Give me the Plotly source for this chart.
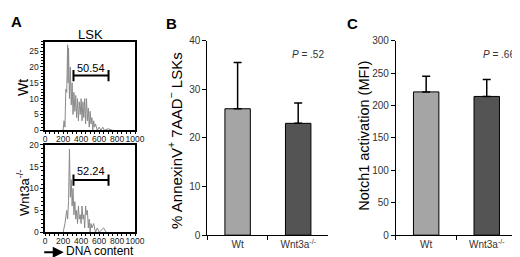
import plotly.graph_objects as go

# ---- data ----
wt_x = [200, 210, 220, 230, 240, 250, 255, 260, 270, 280, 290, 300, 310, 320, 330, 340, 350, 360, 370, 380,
        390, 400, 410, 420, 430, 440, 450, 460, 470, 480, 490, 500, 510, 520, 530, 540, 550, 560, 580, 600,
        620, 640, 660, 700, 750]
wt_y = [0, 3, 1, 13, 12, 27, 15, 26, 10, 20, 8, 15, 5, 12, 6, 11, 4, 10, 3, 9,
        5, 10, 3, 9, 4, 10, 2, 10, 3, 7, 1, 6, 2, 4, 0, 3, 1, 2, 0, 1,
        0, 1, 0, 0.5, 0]
ko_x = [200, 220, 240, 250, 260, 270, 280, 290, 300, 310, 320, 330, 340, 350, 360, 370, 380, 390, 400, 410,
        420, 430, 440, 450, 460, 470, 480, 490, 500, 510, 520, 540, 560, 580, 600, 650, 680]
ko_y = [0, 2, 5, 3, 7, 19, 8, 12, 6, 10, 4, 7, 3, 5, 2, 6, 3, 4, 2, 6,
        3, 4, 1, 6, 4, 5, 1, 3, 0, 2, 1, 2, 0, 1, 0, 1, 0]
gate_lo, gate_hi = 315, 705
wt_gate_y, ko_gate_y = 17.3, 11.9
wt_gate_label, ko_gate_label = "50.54", "52.24"

groups = ["Wt", "Wnt3a<sup>-/-</sup>"]
annexin_mean = [26, 23]
annexin_err = [9.5, 4.2]
notch_mean = [221, 214]
notch_err = [24, 26]
bar_colors = ["#a5a5a5", "#545454"]

W, H = 520, 257
def px(x): return x / W
def py(y): return 1 - y / H

fig = go.Figure()
grey = "#8a8a8a"
fig.add_trace(go.Scatter(x=wt_x, y=wt_y, mode="lines", line=dict(color=grey, width=1), xaxis="x", yaxis="y", showlegend=False))
fig.add_trace(go.Scatter(x=[gate_lo, gate_hi], y=[wt_gate_y]*2, mode="lines+markers",
                         marker=dict(symbol="line-ns", size=8, line=dict(width=2, color="black")),
                         line=dict(color="black", width=2), xaxis="x", yaxis="y", showlegend=False))
fig.add_trace(go.Scatter(x=ko_x, y=ko_y, mode="lines", line=dict(color=grey, width=1), xaxis="x2", yaxis="y2", showlegend=False))
fig.add_trace(go.Scatter(x=[gate_lo, gate_hi], y=[ko_gate_y]*2, mode="lines+markers",
                         marker=dict(symbol="line-ns", size=8, line=dict(width=2, color="black")),
                         line=dict(color="black", width=2), xaxis="x2", yaxis="y2", showlegend=False))

fig.add_trace(go.Bar(x=groups, y=annexin_mean, marker=dict(color=bar_colors, line=dict(color="black", width=1)),
                     width=0.42, error_y=dict(type="data", symmetric=False, array=annexin_err, arrayminus=[0, 0],
                                              color="black", thickness=1.5, width=4),
                     xaxis="x3", yaxis="y3", showlegend=False))
fig.add_trace(go.Bar(x=groups, y=notch_mean, marker=dict(color=bar_colors, line=dict(color="black", width=1)),
                     width=0.42, error_y=dict(type="data", symmetric=False, array=notch_err, arrayminus=[0, 0],
                                              color="black", thickness=1.5, width=4),
                     xaxis="x4", yaxis="y4", showlegend=False))

tf_small = dict(family="Liberation Sans, Arial", size=8.5, color="#222")
hist_x = dict(range=[0, 1000], dtick=200, showline=True, linecolor="black", linewidth=1.5, mirror=True,
              ticks="outside", ticklen=2, tickcolor="black", tickfont=tf_small, tickangle=0, showgrid=False, zeroline=False,
              ticklabelstandoff=-2,
              minor=dict(ticks="outside", ticklen=2, dtick=50, tickcolor="black"))
hist_y = dict(showline=True, linecolor="black", linewidth=1.5, mirror=True, ticks="outside", ticklen=3,
              tickcolor="black", tickfont=tf_small, showgrid=False, zeroline=False,
              minor=dict(ticks="outside", ticklen=2, dtick=1, tickcolor="black"))

tf_bar = dict(family="Liberation Sans, Arial", size=10, color="#333")
bar_x = dict(showline=True, linecolor="black", linewidth=1, ticks="outside", tickson="boundaries", ticklen=4,
             tickcolor="black", tickfont=tf_bar, showgrid=False, zeroline=False, range=[-0.5, 1.5])
bar_y = dict(showline=True, linecolor="black", linewidth=1, ticks="outside", ticklen=4, tickcolor="black",
             tickfont=tf_bar, showgrid=False, zeroline=False)

fig.update_layout(
    width=W, height=H, margin=dict(l=0, r=0, t=0, b=0), plot_bgcolor="white", paper_bgcolor="white",
    xaxis=dict(**hist_x, domain=[px(36), px(128)], anchor="y"),
    yaxis=dict(**hist_y, domain=[py(122), py(29)], range=[0, 28], dtick=5, anchor="x"),
    xaxis2=dict(**hist_x, domain=[px(36), px(128)], anchor="y2"),
    yaxis2=dict(**hist_y, domain=[py(229), py(137)], range=[0, 20], dtick=5, anchor="x2"),
    xaxis3=dict(**bar_x, domain=[px(202), px(326)], anchor="y3"),
    yaxis3=dict(**bar_y, domain=[py(232), py(28)], range=[0, 40], dtick=10, anchor="x3"),
    xaxis4=dict(**bar_x, domain=[px(395), px(519)], anchor="y4"),
    yaxis4=dict(**bar_y, domain=[py(232), py(28)], range=[0, 300], dtick=50, anchor="x4"),
    font=dict(family="Liberation Sans, Arial", color="black"),
)

def ann(text, x, y, size=13, angle=0, bold=False, color="black", xanchor="center", yanchor="middle"):
    fig.add_annotation(text=f"<b>{text}</b>" if bold else text, x=px(x), y=py(y), xref="paper", yref="paper",
                       showarrow=False, textangle=angle, xanchor=xanchor, yanchor=yanchor, borderpad=0,
                       font=dict(size=size, color=color, family="Liberation Sans, Arial"))

ann("A", 7, 8, size=15, bold=True)
ann("B", 165, 10, size=15, bold=True)
ann("C", 351, 10, size=15, bold=True)
ann("LSK", 82, 21, size=13)
ann("Wt", 14, 77, size=14, angle=-90)
ann("Wnt3a<sup>-/-</sup>", 14, 188, size=13, angle=-90)
ann(wt_gate_label, 83, 57, size=11)
ann(ko_gate_label, 83, 165, size=11)
ann("DNA content", 56, 257, size=12, xanchor="left", yanchor="bottom")
fig.add_annotation(x=px(55), y=py(250), ax=-21, ay=0, xref="paper", yref="paper", axref="pixel", ayref="pixel",
                   showarrow=True, arrowhead=2, arrowsize=1.1, arrowwidth=2, arrowcolor="black", text="")
ann("% AnnexinV<sup>+</sup> 7AAD<sup>−</sup> LSKs", 169, 133, size=15, angle=-90)
ann("Notch1 activation (MFI)", 362, 128, size=14.5, angle=-90)
ann("<i>P</i> = .52", 305, 42, size=10, color="#333")
ann("<i>P</i> = .66", 501, 42, size=10, color="#333")

fig.write_html("out.html")
